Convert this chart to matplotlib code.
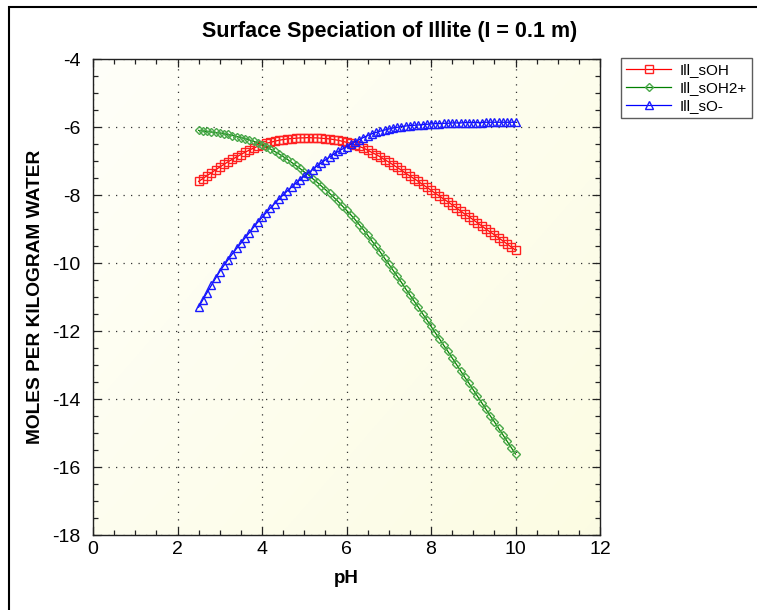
import numpy as np
import matplotlib
matplotlib.use("Agg")
import matplotlib.pyplot as plt
from matplotlib.patches import Rectangle
from matplotlib.ticker import MultipleLocator

plt.rcParams['font.family'] = ['Liberation Sans', 'DejaVu Sans']

# pH grid of the speciation run
ph = [round(2.5 + 0.1 * i, 1) for i in range(76)]

# log10 moles per kg water for each surface species
ill_sOH = [
    -7.60, -7.52, -7.43, -7.35, -7.26, -7.18, -7.10, -7.02, -6.95, -6.88,
    -6.81, -6.74, -6.68, -6.62, -6.57, -6.52, -6.48, -6.45, -6.42, -6.39,
    -6.37, -6.35, -6.34, -6.33, -6.32, -6.32, -6.31, -6.32, -6.32, -6.33,
    -6.34, -6.35, -6.37, -6.39, -6.42, -6.45, -6.48, -6.52, -6.57, -6.62,
    -6.68, -6.75, -6.81, -6.88, -6.96, -7.03, -7.11, -7.19, -7.27, -7.36,
    -7.44, -7.52, -7.60, -7.69, -7.77, -7.86, -7.95, -8.03, -8.12, -8.20,
    -8.29, -8.38, -8.47, -8.56, -8.64, -8.73, -8.82, -8.91, -9.00, -9.09,
    -9.17, -9.26, -9.35, -9.44, -9.53, -9.62,
]
ill_sOH2 = [
    -6.10, -6.12, -6.13, -6.15, -6.16, -6.18, -6.20, -6.22, -6.25, -6.28,
    -6.31, -6.34, -6.38, -6.42, -6.47, -6.52, -6.58, -6.65, -6.72, -6.79,
    -6.87, -6.95, -7.04, -7.13, -7.22, -7.32, -7.41, -7.52, -7.62, -7.73,
    -7.84, -7.95, -8.07, -8.19, -8.32, -8.45, -8.58, -8.72, -8.87, -9.02,
    -9.18, -9.35, -9.51, -9.68, -9.86, -10.03, -10.21, -10.39, -10.57, -10.76,
    -10.94, -11.12, -11.30, -11.49, -11.67, -11.86, -12.05, -12.23, -12.42, -12.60,
    -12.79, -12.98, -13.17, -13.36, -13.54, -13.73, -13.92, -14.11, -14.30, -14.49,
    -14.67, -14.86, -15.05, -15.24, -15.43, -15.62,
]
ill_sO = [
    -11.30, -11.08, -10.87, -10.66, -10.45, -10.25, -10.07, -9.90, -9.73, -9.57,
    -9.42, -9.26, -9.11, -8.95, -8.80, -8.66, -8.52, -8.38, -8.25, -8.12,
    -8.00, -7.88, -7.77, -7.66, -7.55, -7.45, -7.35, -7.25, -7.15, -7.06,
    -6.97, -6.88, -6.80, -6.72, -6.65, -6.58, -6.51, -6.44, -6.37, -6.31,
    -6.25, -6.20, -6.16, -6.12, -6.09, -6.06, -6.03, -6.01, -5.99, -5.97,
    -5.96, -5.95, -5.94, -5.93, -5.92, -5.91, -5.90, -5.90, -5.89, -5.89,
    -5.88, -5.88, -5.88, -5.87, -5.87, -5.87, -5.87, -5.87, -5.86, -5.86,
    -5.86, -5.86, -5.86, -5.86, -5.86, -5.86,
]

species = ["Ill_sOH", "Ill_sOH2+", "Ill_sO-"]
x_ticks = [0, 2, 4, 6, 8, 10, 12]
y_ticks = [-18, -16, -14, -12, -10, -8, -6, -4]

fig = plt.figure(figsize=(7.57, 6.10), dpi=100)
ax = fig.add_axes([93 / 757, 1 - 535 / 610, 507 / 757, 476 / 610])

# pale yellow gradient behind the data
gy, gx = np.mgrid[0:1:200j, 0:1:200j]
shade = 0.55 * gx + 0.45 * gy
top = np.array([1.0, 1.0, 0.975])
bottom = np.array([0.988, 0.988, 0.89])
img = top[None, None, :] * (1 - shade[..., None]) + bottom[None, None, :] * shade[..., None]
ax.imshow(img, extent=[0, 12, -18, -4], aspect='auto', origin='upper', zorder=0)

ax.plot(ph, ill_sOH, color='#ff0000', lw=0.9, marker='s', ms=6.3,
        mfc='none', mec='#ff2020', mew=1.0, label=species[0], zorder=3)
ax.plot(ph, ill_sOH2, color='#008000', lw=0.9, marker='D', ms=4.4,
        mfc='none', mec='#4aa84a', mew=1.0, label=species[1], zorder=3)
ax.plot(ph, ill_sO, color='#0000ff', lw=0.9, marker='^', ms=6.0,
        mfc='none', mec='#1a1aff', mew=1.0, label=species[2], zorder=3)

ax.set_xlim(0, 12)
ax.set_ylim(-18, -4)
ax.set_xticks(x_ticks)
ax.set_yticks(y_ticks)
ax.set_xticklabels([str(v) for v in x_ticks])
ax.set_yticklabels([str(v) for v in y_ticks])
ax.xaxis.set_minor_locator(MultipleLocator(0.5))
ax.yaxis.set_minor_locator(MultipleLocator(0.5))
ax.tick_params(which='both', direction='in', top=True, right=True,
               labelsize=14, color='#222222', width=0.9)
ax.tick_params(which='major', length=6)
ax.tick_params(axis='y', which='major', pad=9)
ax.tick_params(axis='x', which='major', pad=4)
ax.tick_params(which='minor', length=3.5)
ax.grid(True, which='major', color='#333333', linestyle=(0, (1, 5)), lw=0.9)
for sp in ax.spines.values():
    sp.set_color('#222222')
    sp.set_linewidth(1.0)

ax.set_xlabel('pH', fontsize=13.5, fontweight='bold', labelpad=9)
ax.set_ylabel('MOLES PER KILOGRAM WATER', fontsize=13.8, fontweight='bold', labelpad=6)
fig.text(390 / 757, 1 - 32 / 610, 'Surface Speciation of Illite (I = 0.1 m)',
         ha='center', va='center', fontsize=15.5, fontweight='bold')

leg = ax.legend(loc='upper left', bbox_to_anchor=(621 / 757, 1 - 58 / 610),
                bbox_transform=fig.transFigure, fontsize=11, frameon=True,
                fancybox=False, edgecolor='#333333', handlelength=2.9,
                handletextpad=0.6, borderpad=0.35, labelspacing=0.25,
                borderaxespad=0)
leg.get_frame().set_linewidth(1.0)

# outer frame around the whole chart
fig.patches.append(Rectangle((9 / 757, -0.05), 1.2, 1 - 7 / 610 + 0.05,
                             transform=fig.transFigure, fill=False,
                             edgecolor='black', lw=1.5))

fig.savefig('out.png', dpi=100)
